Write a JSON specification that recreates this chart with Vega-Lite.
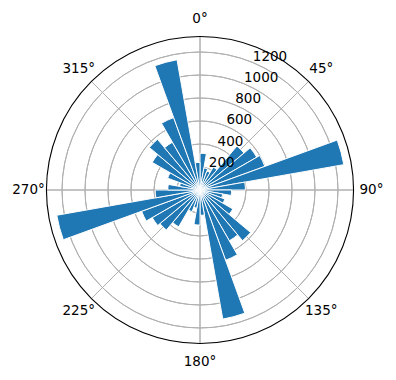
{
  "$schema": "https://vega.github.io/schema/vega-lite/v6.json",
  "width": 400,
  "height": 380,
  "autosize": "none",
  "padding": 0,
  "background": "white",
  "config": {"view": {"stroke": null}, "text": {"font": "DejaVu Sans", "fontSize": 13.5, "color": "black"}},
  "datasets": {
    "bars": [
      {"from": 0, "to": 10, "count": 320},
      {"from": 10, "to": 20, "count": 195},
      {"from": 20, "to": 30, "count": 175},
      {"from": 30, "to": 40, "count": 230},
      {"from": 40, "to": 50, "count": 500},
      {"from": 50, "to": 60, "count": 570},
      {"from": 60, "to": 70, "count": 600},
      {"from": 70, "to": 80, "count": 1270},
      {"from": 80, "to": 90, "count": 395},
      {"from": 90, "to": 100, "count": 275},
      {"from": 100, "to": 110, "count": 200},
      {"from": 110, "to": 120, "count": 230},
      {"from": 120, "to": 130, "count": 330},
      {"from": 130, "to": 140, "count": 575},
      {"from": 140, "to": 150, "count": 510},
      {"from": 150, "to": 160, "count": 650},
      {"from": 160, "to": 170, "count": 1140},
      {"from": 170, "to": 180, "count": 220},
      {"from": 180, "to": 190, "count": 305},
      {"from": 190, "to": 200, "count": 160},
      {"from": 200, "to": 210, "count": 200},
      {"from": 210, "to": 220, "count": 370},
      {"from": 220, "to": 230, "count": 455},
      {"from": 230, "to": 240, "count": 480},
      {"from": 240, "to": 250, "count": 540},
      {"from": 250, "to": 260, "count": 1265},
      {"from": 260, "to": 270, "count": 390},
      {"from": 270, "to": 280, "count": 280},
      {"from": 280, "to": 290, "count": 180},
      {"from": 290, "to": 300, "count": 300},
      {"from": 300, "to": 310, "count": 480},
      {"from": 310, "to": 320, "count": 575},
      {"from": 320, "to": 330, "count": 480},
      {"from": 330, "to": 340, "count": 670},
      {"from": 340, "to": 350, "count": 1150},
      {"from": 350, "to": 360, "count": 240}
    ],
    "rings": [{"r": 200}, {"r": 400}, {"r": 600}, {"r": 800}, {"r": 1000}, {"r": 1200}],
    "spokes": [{"angle": 0}, {"angle": 45}, {"angle": 90}, {"angle": 135}, {"angle": 180}, {"angle": 225}, {"angle": 270}, {"angle": 315}],
    "angleLabels": [
      {"angle": 0, "label": "0°"}, {"angle": 45, "label": "45°"}, {"angle": 90, "label": "90°"}, {"angle": 135, "label": "135°"},
      {"angle": 180, "label": "180°"}, {"angle": 225, "label": "225°"}, {"angle": 270, "label": "270°"}, {"angle": 315, "label": "315°"}
    ],
    "rLabels": [
      {"r": 200, "label": "200"}, {"r": 400, "label": "400"}, {"r": 600, "label": "600"},
      {"r": 800, "label": "800"}, {"r": 1000, "label": "1000"}, {"r": 1200, "label": "1200"}
    ],
    "one": [{"k": 1}]
  },
  "layer": [
    {
      "data": {"name": "rings"},
      "mark": {"type": "arc", "filled": false, "stroke": "#b0b0b0", "strokeWidth": 1},
      "encoding": {
        "theta": {"datum": 0, "type": "quantitative", "stack": null, "scale": {"type": "linear", "domain": [0, 360], "range": [0, 6.283185307179586], "zero": true}},
        "theta2": {"datum": 360},
        "radius": {"field": "r", "type": "quantitative", "scale": {"type": "linear", "domain": [0, 1335], "range": [0, 153.5], "zero": true}},
        "radius2": {"field": "r"}
      }
    },
    {
      "data": {"name": "spokes"},
      "mark": {"type": "arc", "filled": false, "stroke": "#b0b0b0", "strokeWidth": 1},
      "encoding": {
        "theta": {"field": "angle", "type": "quantitative", "stack": null, "scale": {"type": "linear", "domain": [0, 360], "range": [0, 6.283185307179586], "zero": true}},
        "theta2": {"field": "angle"},
        "radius": {"datum": 1335, "type": "quantitative", "scale": {"type": "linear", "domain": [0, 1335], "range": [0, 153.5], "zero": true}}
      }
    },
    {
      "data": {"name": "bars"},
      "mark": {"type": "arc", "fill": "#1f77b4", "stroke": "white", "strokeWidth": 1},
      "encoding": {
        "theta": {"field": "from", "type": "quantitative", "stack": null, "scale": {"type": "linear", "domain": [0, 360], "range": [0, 6.283185307179586], "zero": true}},
        "theta2": {"field": "to"},
        "radius": {"field": "count", "type": "quantitative", "scale": {"type": "linear", "domain": [0, 1335], "range": [0, 153.5], "zero": true}}
      }
    },
    {
      "data": {"name": "one"},
      "mark": {"type": "arc", "filled": false, "stroke": "black", "strokeWidth": 1.1},
      "encoding": {
        "theta": {"datum": 0, "type": "quantitative", "stack": null, "scale": {"type": "linear", "domain": [0, 360], "range": [0, 6.283185307179586], "zero": true}},
        "theta2": {"datum": 360},
        "radius": {"datum": 1335, "type": "quantitative", "scale": {"type": "linear", "domain": [0, 1335], "range": [0, 153.5], "zero": true}},
        "radius2": {"datum": 1335}
      }
    },
    {
      "data": {"name": "rLabels"},
      "mark": {"type": "text", "align": "left", "baseline": "alphabetic", "dy": -2},
      "encoding": {
        "theta": {"datum": 22.5, "type": "quantitative", "stack": null, "scale": {"type": "linear", "domain": [0, 360], "range": [0, 6.283185307179586], "zero": true}},
        "radius": {"field": "r", "type": "quantitative", "scale": {"type": "linear", "domain": [0, 1335], "range": [0, 153.5], "zero": true}},
        "text": {"field": "label"}
      }
    },
    {
      "data": {"name": "angleLabels"},
      "mark": {"type": "text", "align": "center", "baseline": "middle", "radiusOffset": 18},
      "encoding": {
        "theta": {"field": "angle", "type": "quantitative", "stack": null, "scale": {"type": "linear", "domain": [0, 360], "range": [0, 6.283185307179586], "zero": true}},
        "radius": {"datum": 1335, "type": "quantitative", "scale": {"type": "linear", "domain": [0, 1335], "range": [0, 153.5], "zero": true}},
        "text": {"field": "label"}
      }
    }
  ]
}
